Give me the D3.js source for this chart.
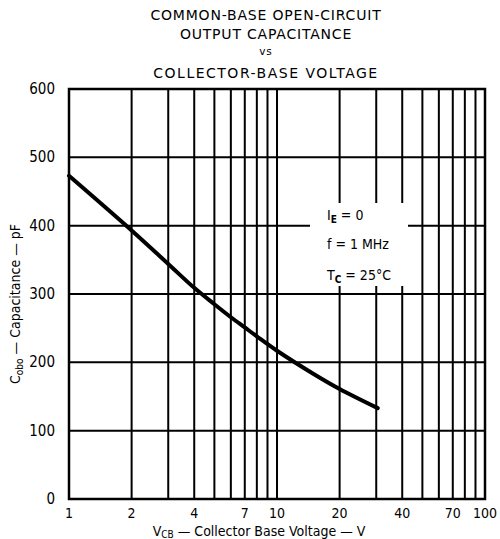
<!DOCTYPE html>
<html><head><meta charset="utf-8">
<script src="https://cdn.jsdelivr.net/npm/d3@7"></script>
<style>body{margin:0;background:#fff}svg{display:block}text{font-family:"DejaVu Sans Condensed","DejaVu Sans",sans-serif;fill:#000}</style>
</head><body><svg id="c" width="500" height="539"></svg>
<script>
const titleLines = ["COMMON-BASE OPEN-CIRCUIT", "OUTPUT CAPACITANCE", "vs", "COLLECTOR-BASE VOLTAGE"];
const voltage = [1, 2, 3, 4, 5, 6, 7, 8, 10, 15, 20, 30.5];
const capacitance = [473, 393, 344, 309, 285, 266, 251, 238, 217, 183, 161, 133];
const xGrid = [2,3,4,5,6,7,8,9,10,20,30,40,50,60,70,80,90];
const xTickLabels = [1,2,4,7,10,20,40,70,100];
const yTicks = [0,100,200,300,400,500,600];

const svg = d3.select("#c");
const L = 69, R = 485, T = 89, B = 499;
const x = d3.scaleLog().domain([1,100]).range([L,R]);
const y = d3.scaleLinear().domain([0,600]).range([B,T]);

// title
const tY = [19.5, 38.5, 55, 77.5];
svg.selectAll("text.title").data(titleLines).join("text")
  .attr("class","title").attr("x",266).attr("y",(d,i)=>tY[i])
  .attr("text-anchor","middle")
  .style("font-family","'DejaVu Sans',sans-serif")
  .attr("font-size",(d,i)=> i===2 ? 10.5 : 14)
  .attr("letter-spacing",(d,i)=> i===2 ? 1 : (i===3 ? 1.5 : 0.8))
  .text(d=>d);

// grid
const g = svg.append("g");
g.selectAll("line.v").data(xGrid).join("line")
  .attr("x1",d=>x(d)).attr("x2",d=>x(d)).attr("y1",T).attr("y2",B)
  .attr("stroke","#000").attr("stroke-width",2);
g.selectAll("line.h").data(yTicks.slice(1,-1)).join("line")
  .attr("x1",L).attr("x2",R).attr("y1",d=>y(d)).attr("y2",d=>y(d))
  .attr("stroke","#000").attr("stroke-width",2);
g.append("rect").attr("x",L).attr("y",T).attr("width",R-L).attr("height",B-T)
  .attr("fill","none").attr("stroke","#000").attr("stroke-width",2.5);

// legend box (white, covering grid)
svg.append("rect").attr("x",310).attr("y",203).attr("width",98).attr("height",83).attr("fill","#fff");
const leg = svg.append("g").attr("font-size",14);
const t1 = leg.append("text").attr("x",327).attr("y",220);
t1.append("tspan").text("I");
t1.append("tspan").attr("font-size",10).attr("dy",3).attr("font-weight","bold").text("E");
t1.append("tspan").attr("dy",-3).text(" = 0");
leg.append("text").attr("x",327).attr("y",249).text("f = 1 MHz");
const t3 = leg.append("text").attr("x",327).attr("y",280);
t3.append("tspan").text("T");
t3.append("tspan").attr("font-size",10).attr("dy",3).attr("font-weight","bold").text("C");
t3.append("tspan").attr("dy",-3).text(" = 25°C");

// axes labels
svg.selectAll("text.yt").data(yTicks).join("text").attr("class","yt")
  .attr("x",55).attr("y",d=>y(d)+5).attr("text-anchor","end").attr("font-size",15).text(d=>d);
svg.selectAll("text.xt").data(xTickLabels).join("text").attr("class","xt")
  .attr("x",d=>x(d)).attr("y",518).attr("text-anchor","middle").attr("font-size",14).text(d=>d);

// axis titles
const xt = svg.append("text").attr("x",259).attr("y",536).attr("text-anchor","middle").attr("font-size",14);
xt.append("tspan").text("V");
xt.append("tspan").attr("font-size",10).attr("dy",2).text("CB");
xt.append("tspan").attr("dy",-2).text(" — Collector Base Voltage — V");
const yt = svg.append("text").attr("transform","translate(20,304) rotate(-90)").attr("text-anchor","middle").attr("font-size",14);
yt.append("tspan").text("C");
yt.append("tspan").attr("font-size",10).attr("dy",3).text("obo");
yt.append("tspan").attr("dy",-3).text(" — Capacitance — pF");

// curve
const pts = voltage.map((v,i)=>[v, capacitance[i]]);
svg.append("path").datum(pts)
  .attr("d", d3.line().x(d=>x(d[0])).y(d=>y(d[1])).curve(d3.curveCatmullRom))
  .attr("fill","none").attr("stroke","#000").attr("stroke-width",4).attr("stroke-linecap","round");
</script></body></html>
